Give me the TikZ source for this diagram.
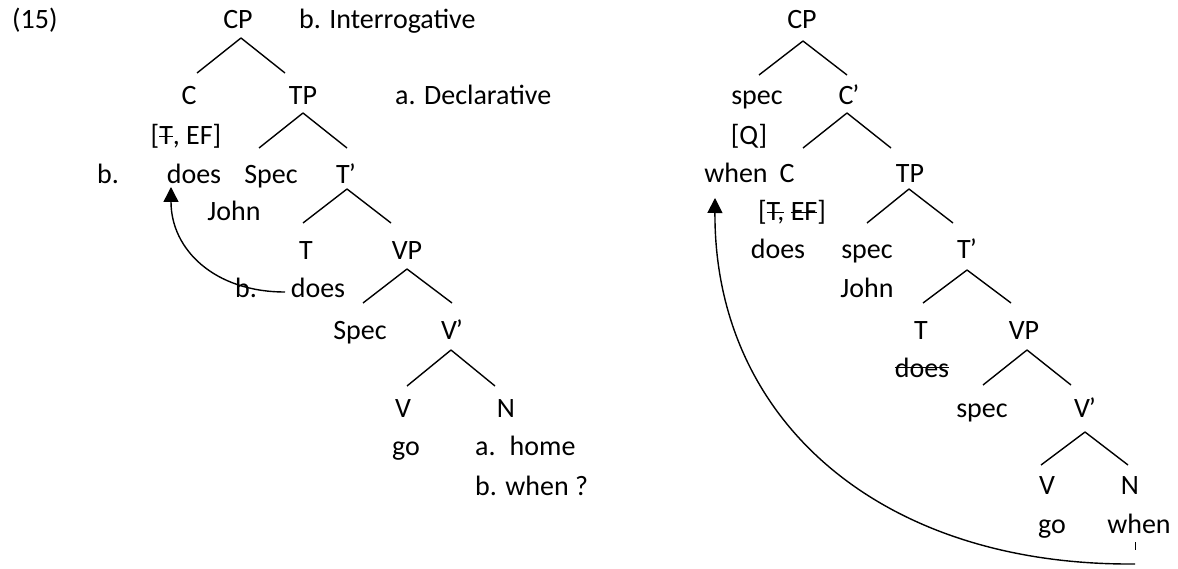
\documentclass[tikz,border=0pt]{standalone}
\usepackage{fontspec}
\setmainfont{Carlito}
\usetikzlibrary{arrows.meta,calc}
\newcommand\stk[2]{\setbox0\hbox{#2}\rlap{\usebox0}\rule[#1]{\wd0}{1.3pt}}
\newcommand\pr{\kern-1pt’}
\begin{document}
\begin{tikzpicture}[x=1pt,y=-1pt,
  lab/.style={inner sep=0pt,anchor=base,font=\fontsize{28}{34}\selectfont},
  labl/.style={lab,anchor=base west},
  br/.style={line width=1.4pt},
  mv/.style={line width=1.4pt,-{Triangle[width=15pt,length=15pt]}}]
\useasboundingbox (0,0) rectangle (1178,569);
% ---------- left tree ----------
\node[labl] (ex) at (12,29) {(15)};
\node[lab] (lcp) at (238,29) {CP};
\node[labl] (inter) at (299,29) {b. Interrogative};
\node[lab] (lc) at (189,105) {C};
\node[lab] (ltp) at (303,105) {TP};
\node[labl] (decl) at (395,105) {a. Declarative};
\node[lab] (lfeat) at (186,145) {[\stk{8pt}{T}, EF]};
\node[labl] (lb1) at (97,184) {b.};
\node[lab] (lcdoes) at (194,184) {does};
\node[lab] (lspec) at (271,184) {Spec};
\node[lab] (ltb) at (346,184) {T\pr};
\node[lab] (ljohn) at (234,221) {John};
\node[lab] (lt) at (306,260) {T};
\node[lab] (lvp) at (407,260) {VP};
\node[labl] (lb2) at (235,298) {b.};
\node[lab] (ltdoes) at (318,298) {does};
\node[lab] (lvspec) at (360,340) {Spec};
\node[lab] (lvb) at (452,340) {V\pr};
\node[lab] (lv) at (403,417) {V};
\node[lab] (ln) at (506,417) {N};
\node[lab] (lgo) at (406,455) {go};
\node[labl] (lhome) at (475,455) {a.\hspace{14pt}home};
\node[labl] (lwhen) at (475,495) {b. when ?};
% branches
\draw[br] ($(lcp.base)+(3,9)$) -- ++(-44,35);
\draw[br] ($(lcp.base)+(3,9)$) -- ++(44,35);
\draw[br] ($(ltp.base)+(0,8)$) -- ++(-44,35);
\draw[br] ($(ltp.base)+(0,8)$) -- ++(44,35);
\draw[br] ($(ltb.base)+(1,5)$) -- ++(-44,34);
\draw[br] ($(ltb.base)+(1,5)$) -- ++(44,34);
\draw[br] ($(lvp.base)+(0,9)$) -- ++(-44,34);
\draw[br] ($(lvp.base)+(0,9)$) -- ++(45,34);
\draw[br] ($(lvb.base)+(-1,10)$) -- ++(-44,36);
\draw[br] ($(lvb.base)+(-1,10)$) -- ++(44,36);
% movement
\draw[mv] ($(ltdoes.base)+(-33,-6)$) .. controls (215,292) and (171,250) .. ($(lcdoes.base)+(-23,3)$);
% ---------- right tree ----------
\node[lab] (rcp) at (802,29) {CP};
\node[lab] (rspec) at (757,105) {spec};
\node[lab] (rcb) at (849,105) {C\pr};
\node[lab] (rq) at (749,145) {[Q]};
\node[lab] (rwhen) at (736,183) {when};
\node[lab] (rc) at (787,183) {C};
\node[lab] (rtp) at (910,183) {TP};
\node[lab] (rfeat) at (792,221) {[\stk{7.5pt}{T,} \stk{7.5pt}{EF}]};
\node[lab] (rcdoes) at (778,259) {does};
\node[lab] (rtspec) at (867,259) {spec};
\node[lab] (rtb) at (967,259) {T\pr};
\node[lab] (rjohn) at (867,298) {John};
\node[lab] (rt) at (921,340) {T};
\node[lab] (rvp) at (1024,340) {VP};
\node[lab] (rtdoes) at (922,377) {\stk{9pt}{does}};
\node[lab] (rvspec) at (982,417) {spec};
\node[lab] (rvb) at (1085,417) {V\pr};
\node[lab] (rv) at (1047,494) {V};
\node[lab] (rn) at (1130,494) {N};
\node[lab] (rgo) at (1052,533) {go};
\node[lab] (rnwhen) at (1139,533) {when};
% branches
\draw[br] ($(rcp.base)+(1,12)$) -- ++(-44,34);
\draw[br] ($(rcp.base)+(1,12)$) -- ++(44,34);
\draw[br] ($(rcb.base)+(-2,8)$) -- ++(-44,35);
\draw[br] ($(rcb.base)+(-2,8)$) -- ++(44,35);
\draw[br] ($(rtp.base)+(-1,6)$) -- ++(-42,34);
\draw[br] ($(rtp.base)+(-1,6)$) -- ++(44,34);
\draw[br] ($(rtb.base)+(0,11)$) -- ++(-44,33);
\draw[br] ($(rtb.base)+(0,11)$) -- ++(44,33);
\draw[br] ($(rvp.base)+(3,10)$) -- ++(-44,35);
\draw[br] ($(rvp.base)+(3,10)$) -- ++(44,35);
\draw[br] ($(rvb.base)+(0,15)$) -- ++(-44,33);
\draw[br] ($(rvb.base)+(0,15)$) -- ++(43,33);
% trace tick and movement
\draw[line width=1pt] ($(rnwhen.base)+(-4,9)$) -- ($(rnwhen.base)+(-4,17)$);
\draw[mv] ($(rnwhen.base)+(-4,31)$) .. controls (880,566) and (714,420) .. ($(rwhen.base)+(-21,15)$);
\end{tikzpicture}
\end{document}
